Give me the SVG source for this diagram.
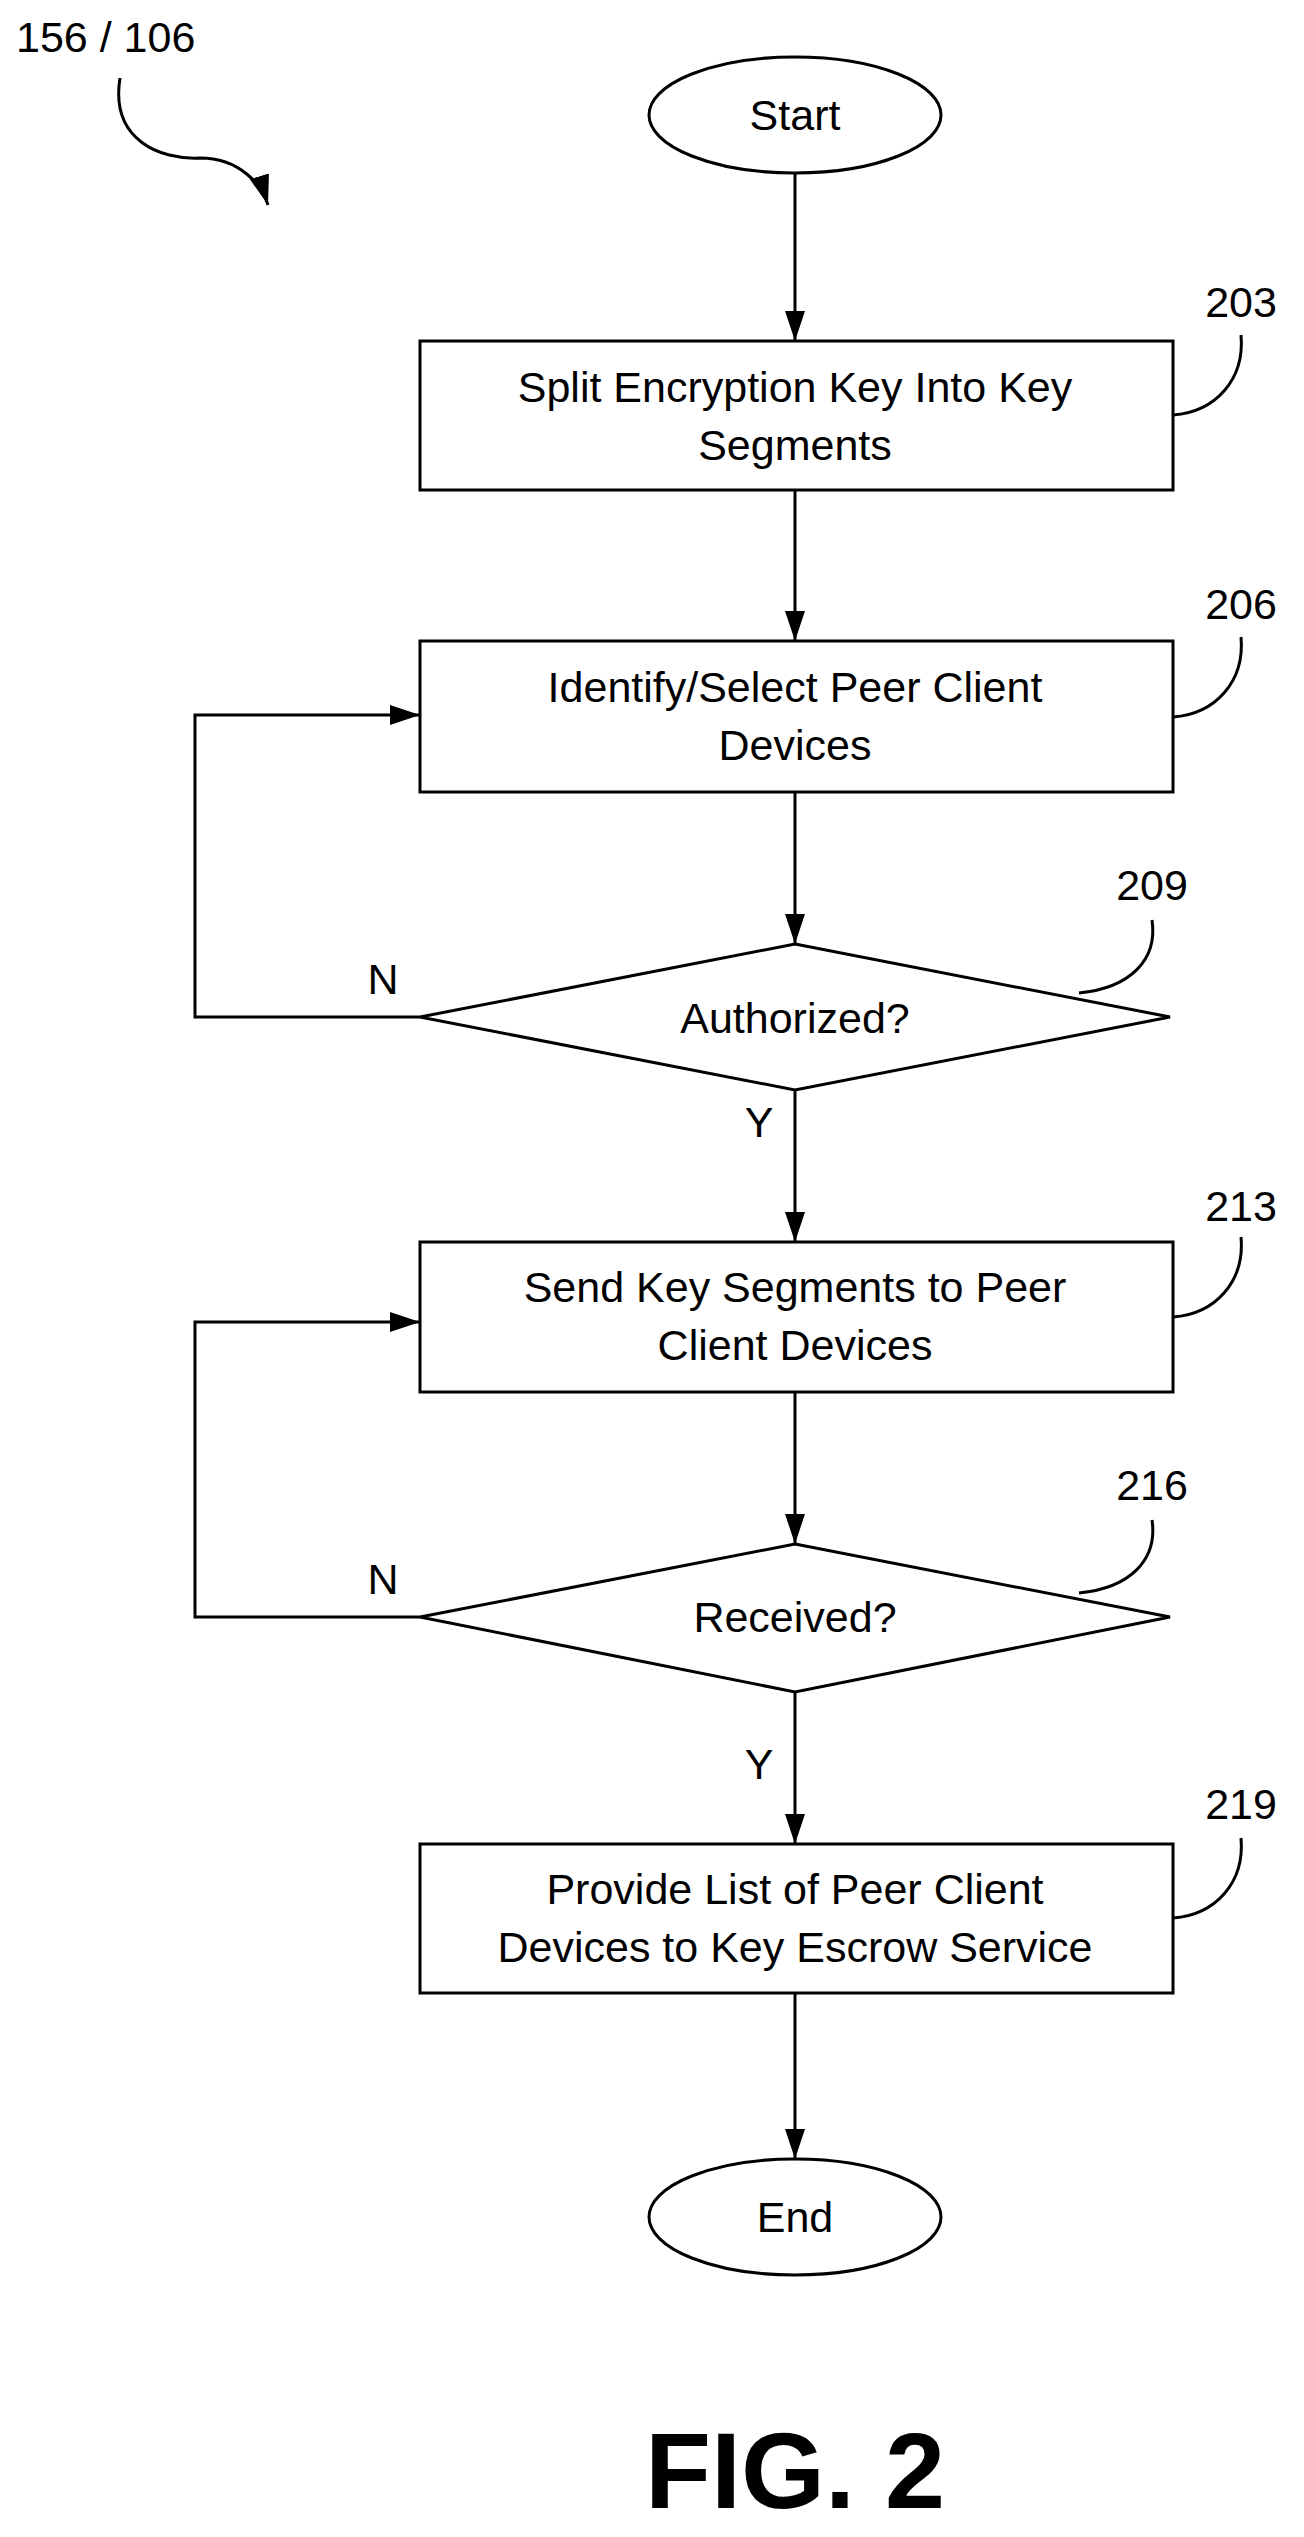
<svg xmlns="http://www.w3.org/2000/svg" width="1304" height="2537" viewBox="0 0 1304 2537">
<defs>
<marker id="ah" markerWidth="30" markerHeight="20" refX="30" refY="10" orient="auto" markerUnits="userSpaceOnUse"><path d="M0,0 L30,10 L0,20 Z" fill="#000"/></marker>
</defs>
<style>
.s{fill:#fff;stroke:#000;stroke-width:3}
.l{fill:none;stroke:#000;stroke-width:3}
text{font-family:"Liberation Sans",Arial,sans-serif;font-size:43px;fill:#000;text-anchor:middle}
.r{text-anchor:start}
</style>
<rect width="1304" height="2537" fill="#fff"/>
<g id="connectors">
<path class="l" d="M795,173 V341" marker-end="url(#ah)"/>
<path class="l" d="M795,490 V641" marker-end="url(#ah)"/>
<path class="l" d="M795,792 V944" marker-end="url(#ah)"/>
<path class="l" d="M795,1090 V1242" marker-end="url(#ah)"/>
<path class="l" d="M795,1392 V1544" marker-end="url(#ah)"/>
<path class="l" d="M795,1692 V1844" marker-end="url(#ah)"/>
<path class="l" d="M795,1993 V2159" marker-end="url(#ah)"/>
<path class="l" d="M420,1017 H195 V715 H420" marker-end="url(#ah)"/>
<path class="l" d="M420,1617 H195 V1322 H420" marker-end="url(#ah)"/>
<text x="383" y="994">N</text>
<text x="759" y="1137">Y</text>
<text x="383" y="1594">N</text>
<text x="759" y="1779">Y</text>
</g>
<g id="label156">
<text class="r" x="16" y="52">156 / 106</text>
<path class="l" d="M120,78 C110,140 160,160 200,158 C240,158 262,185 268,205" marker-end="url(#ah)"/>
</g>
<g id="start"><ellipse class="s" cx="795" cy="115" rx="146" ry="58"/><text x="795" y="130">Start</text></g>
<g id="n203"><rect class="s" x="420" y="341" width="753" height="149"/><text x="795" y="402">Split Encryption Key Into Key</text><text x="795" y="460">Segments</text>
<text x="1241" y="317">203</text><path class="l" d="M1173,415 C1215,412 1245,380 1241,335"/></g>
<g id="n206"><rect class="s" x="420" y="641" width="753" height="151"/><text x="795" y="702">Identify/Select Peer Client</text><text x="795" y="760">Devices</text>
<text x="1241" y="619">206</text><path class="l" d="M1173,717 C1215,714 1245,682 1241,637"/></g>
<g id="n209"><polygon class="s" points="795,944 1170,1017 795,1090 420,1017"/><text x="795" y="1033">Authorized?</text>
<text x="1152" y="900">209</text><path class="l" d="M1079,993 C1130,988 1158,960 1152,920"/></g>
<g id="n213"><rect class="s" x="420" y="1242" width="753" height="150"/><text x="795" y="1302">Send Key Segments to Peer</text><text x="795" y="1360">Client Devices</text>
<text x="1241" y="1221">213</text><path class="l" d="M1173,1317 C1215,1314 1245,1282 1241,1237"/></g>
<g id="n216"><polygon class="s" points="795,1544 1170,1617 795,1692 420,1617"/><text x="795" y="1632">Received?</text>
<text x="1152" y="1500">216</text><path class="l" d="M1079,1593 C1130,1588 1158,1560 1152,1520"/></g>
<g id="n219"><rect class="s" x="420" y="1844" width="753" height="149"/><text x="795" y="1904">Provide List of Peer Client</text><text x="795" y="1962">Devices to Key Escrow Service</text>
<text x="1241" y="1819">219</text><path class="l" d="M1173,1918 C1215,1915 1245,1883 1241,1838"/></g>
<g id="end"><ellipse class="s" cx="795" cy="2217" rx="146" ry="58"/><text x="795" y="2232">End</text></g>
<text x="795" y="2508" style="font-size:108px;font-weight:bold">FIG. 2</text>
</svg>
